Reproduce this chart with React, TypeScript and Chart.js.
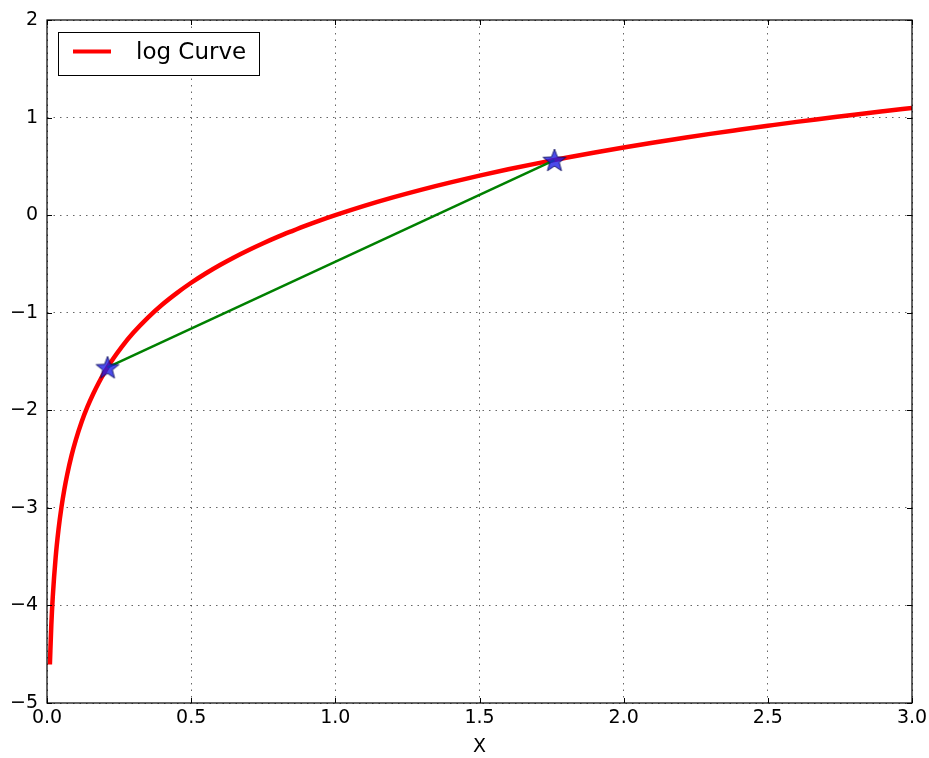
import React, { useEffect, useRef } from 'react';
import { Chart, registerables } from 'chart.js';

Chart.register(...registerables);

// Values (the red "log Curve")
const curveX = [0.01, 0.015, 0.02, 0.03, 0.04, 0.05, 0.06, 0.07, 0.085, 0.1, 0.12, 0.14, 0.16, 0.18, 0.2, 0.23, 0.26, 0.3, 0.35, 0.4, 0.45, 0.5, 0.55, 0.6, 0.65, 0.7, 0.75, 0.8, 0.85, 0.9, 0.95, 1.0, 1.1, 1.2, 1.3, 1.4, 1.5, 1.6, 1.7, 1.8, 1.9, 2.0, 2.1, 2.2, 2.3, 2.4, 2.5, 2.6, 2.7, 2.8, 2.9, 3.0];
const curveY = [-4.605, -4.2, -3.912, -3.507, -3.219, -2.996, -2.813, -2.659, -2.465, -2.303, -2.12, -1.966, -1.833, -1.715, -1.609, -1.47, -1.347, -1.204, -1.05, -0.916, -0.799, -0.693, -0.598, -0.511, -0.431, -0.357, -0.288, -0.223, -0.163, -0.105, -0.051, 0.0, 0.095, 0.182, 0.262, 0.336, 0.405, 0.47, 0.531, 0.588, 0.642, 0.693, 0.742, 0.788, 0.833, 0.875, 0.916, 0.956, 0.993, 1.03, 1.065, 1.099];

// The two star points joined by the green chord
const pointX = [0.21, 1.76];
const pointY = [-1.56, 0.565];

const xTickValues = [0, 0.5, 1.0, 1.5, 2.0, 2.5, 3.0];
const xTickLabels = ['0.0', '0.5', '1.0', '1.5', '2.0', '2.5', '3.0'];
const yTickValues = [2, 1, 0, -1, -2, -3, -4, -5];
const yTickLabels = ['2', '1', '0', '\u22121', '\u22122', '\u22123', '\u22124', '\u22125'];

const legendLabel = 'log Curve';
const xTitle = 'X';

function makeStar(): HTMLCanvasElement {
  const size = 28;
  const c = document.createElement('canvas');
  c.width = size;
  c.height = size;
  const ctx = c.getContext('2d')!;
  const cx = size / 2;
  const cy = size / 2 + 1;
  const R = 12;
  const r = R * 0.42;
  ctx.beginPath();
  for (let i = 0; i < 10; i++) {
    const rad = i % 2 === 0 ? R : r;
    const a = -Math.PI / 2 + (i * Math.PI) / 5;
    const px = cx + rad * Math.cos(a);
    const py = cy + rad * Math.sin(a);
    if (i === 0) ctx.moveTo(px, py);
    else ctx.lineTo(px, py);
  }
  ctx.closePath();
  ctx.fillStyle = 'rgba(30,30,230,0.8)';
  ctx.fill();
  ctx.lineWidth = 1;
  ctx.strokeStyle = 'rgba(10,10,90,0.85)';
  ctx.stroke();
  return c;
}

const framePlugin = {
  id: 'mplFrame',
  afterDatasetsDraw(chart: any) {
    const { ctx, chartArea } = chart;
    const { left, right, top, bottom } = chartArea;
    const xs = chart.scales.x;
    const ys = chart.scales.y;
    ctx.save();
    ctx.strokeStyle = '#000';
    ctx.lineWidth = 1.2;
    ctx.setLineDash([]);
    ctx.strokeRect(left, top, right - left, bottom - top);
    const tl = 5;
    ctx.lineWidth = 1;
    ctx.beginPath();
    xTickValues.forEach((v) => {
      const px = Math.round(xs.getPixelForValue(v)) + 0.5;
      ctx.moveTo(px, bottom);
      ctx.lineTo(px, bottom - tl);
      ctx.moveTo(px, top);
      ctx.lineTo(px, top + tl);
    });
    yTickValues.forEach((v) => {
      const py = Math.round(ys.getPixelForValue(v)) + 0.5;
      ctx.moveTo(left, py);
      ctx.lineTo(left + tl, py);
      ctx.moveTo(right, py);
      ctx.lineTo(right - tl, py);
    });
    ctx.stroke();

    // legend box
    const bx = left + 11;
    const by = top + 12;
    const bw = 201;
    const bh = 43;
    ctx.fillStyle = '#fff';
    ctx.fillRect(bx, by, bw, bh);
    ctx.lineWidth = 1;
    ctx.strokeStyle = '#000';
    ctx.strokeRect(bx + 0.5, by + 0.5, bw, bh);
    const ds = chart.data.datasets.find((d: any) => d.label === legendLabel);
    ctx.strokeStyle = ds ? ds.borderColor : 'red';
    ctx.lineWidth = 4;
    ctx.beginPath();
    ctx.moveTo(bx + 15, by + 19.5);
    ctx.lineTo(bx + 53, by + 19.5);
    ctx.stroke();
    ctx.fillStyle = '#000';
    ctx.font = '23px "DejaVu Sans"';
    ctx.textBaseline = 'middle';
    ctx.textAlign = 'left';
    ctx.fillText(legendLabel, bx + 78, by + 21);
    ctx.restore();
  },
};

export default function App() {
  const ref = useRef<HTMLCanvasElement | null>(null);
  useEffect(() => {
    if (!ref.current) return;
    Chart.defaults.font.family = '"DejaVu Sans", sans-serif';
    const star = makeStar();
    const chart = new Chart(ref.current, {
      type: 'line',
      data: {
        datasets: [
          {
            label: 'points',
            data: pointX.map((x, i) => ({ x, y: pointY[i] })),
            showLine: false,
            pointStyle: star as any,
            pointRadius: 12,
            borderColor: 'transparent',
            backgroundColor: 'transparent',
          },
          {
            label: 'chord',
            data: pointX.map((x, i) => ({ x, y: pointY[i] })),
            borderColor: '#008000',
            borderWidth: 2.5,
            pointRadius: 0,
            fill: false,
          },
          {
            label: legendLabel,
            data: curveX.map((x, i) => ({ x, y: curveY[i] })),
            borderColor: '#ff0000',
            borderWidth: 4.5,
            pointRadius: 0,
            fill: false,
            cubicInterpolationMode: 'monotone',
          },
        ],
      },
      options: {
        responsive: false,
        animation: false,
        events: [],
        layout: { padding: { left: 0, top: 20, right: 17, bottom: 0 } },
        plugins: {
          legend: { display: false },
          tooltip: { enabled: false },
        },
        scales: {
          x: {
            type: 'linear',
            min: 0,
            max: 3,
            afterBuildTicks: (s: any) => {
              s.ticks = xTickValues.map((v) => ({ value: v }));
            },
            afterFit: (s: any) => {
              s.height = 55;
              s.paddingLeft = 0;
              s.paddingRight = 0;
            },
            ticks: {
              autoSkip: false,
              maxRotation: 0,
              color: '#000',
              padding: 4,
              font: { size: 19 },
              callback: (v: any) => {
                const i = xTickValues.indexOf(Number(v));
                return i >= 0 ? xTickLabels[i] : '';
              },
            },
            grid: { color: 'rgba(0,0,0,0.6)', lineWidth: 1, drawTicks: false },
            border: { display: false, dash: [1.5, 5] },
            title: { display: true, text: xTitle, color: '#000', font: { size: 19 }, padding: { top: 2, bottom: 0 } },
          },
          y: {
            type: 'linear',
            min: -5,
            max: 2,
            afterBuildTicks: (s: any) => {
              s.ticks = yTickValues.map((v) => ({ value: v }));
            },
            afterFit: (s: any) => {
              s.width = 47;
              s.paddingTop = 0;
              s.paddingBottom = 0;
            },
            ticks: {
              autoSkip: false,
              color: '#000',
              padding: 9,
              font: { size: 19 },
              callback: (v: any) => {
                const i = yTickValues.indexOf(Number(v));
                return i >= 0 ? yTickLabels[i] : '';
              },
            },
            grid: { color: 'rgba(0,0,0,0.6)', lineWidth: 1, drawTicks: false },
            border: { display: false, dash: [1.5, 5] },
          },
        },
      },
      plugins: [framePlugin],
    });
    return () => chart.destroy();
  }, []);
  return (
    <div style={{ position: 'fixed', left: 0, top: 0, width: 929, height: 758, background: '#fff' }}>
      <canvas ref={ref} width={929} height={758} style={{ display: 'block' }} />
    </div>
  );
}
